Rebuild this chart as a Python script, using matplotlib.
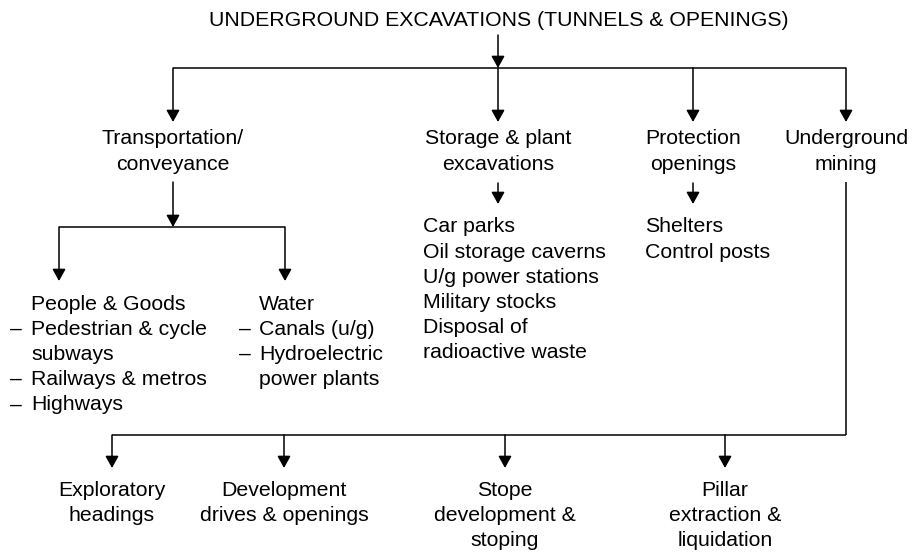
import matplotlib.pyplot as plt

#%% Texts of the chart
title = "UNDERGROUND EXCAVATIONS (TUNNELS & OPENINGS)"
level2 = [["Transportation/", "conveyance"],
          ["Storage & plant", "excavations"],
          ["Protection", "openings"],
          ["Underground", "mining"]]
people = ["People & Goods", "Pedestrian & cycle", "subways",
          "Railways & metros", "Highways"]
people_dash = [False, True, False, True, True]
water = ["Water", "Canals (u/g)", "Hydroelectric", "power plants"]
water_dash = [False, True, True, False]
storage = ["Car parks", "Oil storage caverns", "U/g power stations",
           "Military stocks", "Disposal of", "radioactive waste"]
protection = ["Shelters", "Control posts"]
mining = [["Exploratory", "headings"],
          ["Development", "drives & openings"],
          ["Stope", "development &", "stoping"],
          ["Pillar", "extraction &", "liquidation"]]

#%% Layout (pixel coords, y down)
x_l2 = [173, 498, 693, 846]
x_sub = [59, 285]
x_mine = [112, 284, 505, 725]
step = 25.2
fs = 15.3
off = 7.5  # cap centre -> baseline

plt.rcParams['font.family'] = ['Liberation Sans', 'DejaVu Sans']
fig = plt.figure(figsize=(9.14, 5.53), dpi=100)
ax = fig.add_axes([0, 0, 1, 1])
ax.set_xlim(0, 914)
ax.set_ylim(553, 0)
ax.axis('off')

lw = 1.1


def line(x0, y0, x1, y1):
    ax.plot([x0, x1], [y0, y1], color='black', lw=lw, solid_capstyle='butt')


def arrow(x, y0, y1):
    ax.annotate('', xy=(x, y1), xytext=(x, y0),
                arrowprops=dict(arrowstyle='-|>,head_length=0.72,head_width=0.4',
                                mutation_scale=10, color='black', lw=lw,
                                shrinkA=0, shrinkB=0))


def lines(x, y, rows, ha='left'):
    for i, r in enumerate(rows):
        ax.text(x, y + i * step + off, r, ha=ha, va='baseline', fontsize=fs)


#%% Title and top level
ax.text(499, 18 + off, title, ha='center', va='baseline', fontsize=fs)
arrow(498, 35, 68)
line(x_l2[0], 68, x_l2[-1], 68)
for x, lab in zip(x_l2, level2):
    arrow(x, 68, 122)
    lines(x, 137, lab, ha='center')

#%% Transportation branch
arrow(x_l2[0], 182, 227)
line(x_sub[0], 227, x_sub[1], 227)
for x in x_sub:
    arrow(x, 227, 281)
for i, (r, d) in enumerate(zip(people, people_dash)):
    if d:
        ax.text(10, 302 + i * step + off, "–", ha='left', va='baseline', fontsize=fs)
    ax.text(31, 302 + i * step + off, r, ha='left', va='baseline', fontsize=fs)
for i, (r, d) in enumerate(zip(water, water_dash)):
    if d:
        ax.text(239, 302 + i * step + off, "–", ha='left', va='baseline', fontsize=fs)
    ax.text(259, 302 + i * step + off, r, ha='left', va='baseline', fontsize=fs)

#%% Storage and protection
arrow(x_l2[1], 183, 204)
lines(423, 225, storage)
arrow(x_l2[2], 183, 204)
lines(645, 225, protection)

#%% Mining
line(x_l2[3], 182, x_l2[3], 435)
line(x_mine[0], 435, x_l2[3], 435)
for x, lab in zip(x_mine, mining):
    arrow(x, 435, 468)
    lines(x, 488, lab, ha='center')

fig.savefig('out.png', dpi=100)
